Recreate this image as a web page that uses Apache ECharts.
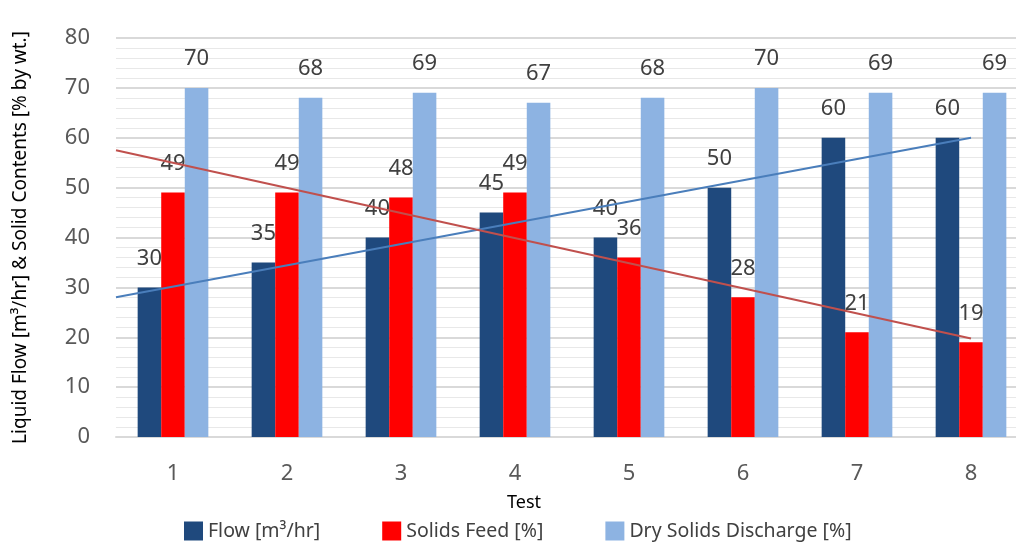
<!DOCTYPE html>
<html>
<head>
<meta charset="utf-8">
<script src="https://cdn.jsdelivr.net/npm/echarts@6/dist/echarts.min.js"></script>
<style>
html,body{margin:0;padding:0;background:#fff;overflow:hidden;width:1016px;height:543px;}
#main{width:1040px;height:543px;}
</style>
</head>
<body>
<div id="main"></div>
<script>
var categories = ['1','2','3','4','5','6','7','8'];
var flow = [30, 35, 40, 45, 40, 50, 60, 60];
var solidsFeed = [49, 49, 48, 49, 36, 28, 21, 19];
var drySolids = [70, 68, 69, 67, 68, 70, 69, 69];
var trendX = [0.5, 8];
var flowTrend = [28, 60];
var solidsTrend = [57.5, 19.75];
var yTicks = [0, 10, 20, 30, 40, 50, 60, 70, 80];

var FONT = 'Noto Sans';
var chart = echarts.init(document.getElementById('main'), null, {renderer: 'canvas'});

function barSeries(name, data, color) {
  return {
    name: name, type: 'bar', data: data, xAxisIndex: 0, yAxisIndex: 0,
    barGap: '0%', barCategoryGap: '38%',
    itemStyle: {color: color},
    label: {show: true, position: 'top', distance: 18, color: '#404040', fontSize: 22, fontFamily: FONT},
    z: 2
  };
}
function trendSeries(vals, color) {
  return {
    type: 'line', xAxisIndex: 1, yAxisIndex: 0,
    data: trendX.map(function (x, i) { return [x, vals[i]]; }),
    symbol: 'none', lineStyle: {color: color, width: 2}, z: 5, silent: true,
    clip: false
  };
}

chart.setOption({
  animation: false,
  backgroundColor: '#fff',
  textStyle: {fontFamily: FONT},
  grid: {left: 116, top: 38, width: 912, height: 399, containLabel: false},
  title: {
    text: 'Test', left: 519, top: 489, textAlign: 'center',
    textStyle: {fontSize: 18, fontWeight: 'normal', color: '#000', fontFamily: FONT}
  },
  legend: {
    data: ['Flow [m³/hr]', 'Solids Feed [%]', 'Dry Solids Discharge [%]'],
    left: 179, top: 516, itemWidth: 19, itemHeight: 19, itemGap: 62,
    icon: 'rect',
    textStyle: {fontSize: 19.5, color: '#404040', fontFamily: FONT}
  },
  xAxis: [{
    type: 'category', data: categories,
    axisLine: {lineStyle: {color: '#d9d9d9', width: 2}},
    axisTick: {show: false},
    axisLabel: {fontSize: 22, color: '#595959', margin: 26, fontFamily: FONT}
  }, {
    type: 'value', min: 0.5, max: 8.5, show: false
  }],
  yAxis: {
    type: 'value', min: yTicks[0], max: yTicks[yTicks.length - 1], interval: 10,
    axisLine: {show: false}, axisTick: {show: false},
    axisLabel: {fontSize: 22, color: '#595959', margin: 26, fontFamily: FONT},
    splitLine: {lineStyle: {color: '#d9d9d9', width: 2}},
    minorTick: {show: false, splitNumber: 5},
    minorSplitLine: {show: true, lineStyle: {color: '#e8e8e8', width: 1}},
    name: 'Liquid Flow [m³/hr] & Solid Contents [% by wt.]',
    nameLocation: 'middle', nameGap: 86,
    nameTextStyle: {fontSize: 19, color: '#000', fontFamily: FONT}
  },
  series: [
    barSeries('Flow [m³/hr]', flow, '#1f497d'),
    barSeries('Solids Feed [%]', solidsFeed, '#ff0000'),
    barSeries('Dry Solids Discharge [%]', drySolids, '#8db3e2'),
    trendSeries(flowTrend, '#4a7ebb'),
    trendSeries(solidsTrend, '#c0504d')
  ]
});
</script>
</body>
</html>
